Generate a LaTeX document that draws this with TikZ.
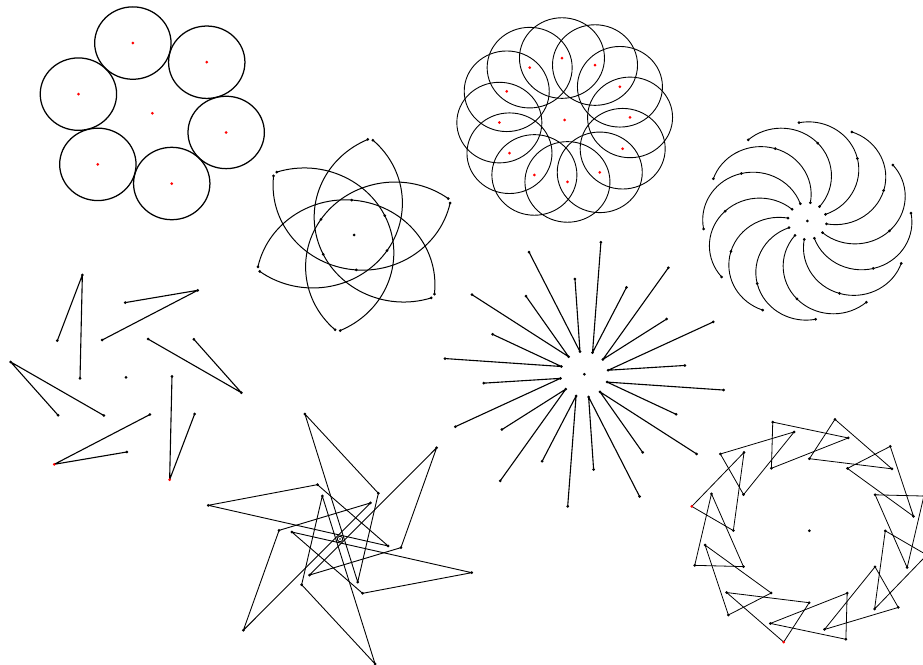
\documentclass[tikz,border=0pt]{standalone}
\begin{document}
\begin{tikzpicture}[x=1pt,y=1pt,
  dot/.style={circle,fill=black,inner sep=0pt,minimum size=3pt},
  rdot/.style={circle,fill=red,inner sep=0pt,minimum size=3pt},
  ln/.style={line width=#1,line cap=round,line join=round,black},
  ln/.default=1pt]
\useasboundingbox (0,0) rectangle (923,664);
\clip (0,0) rectangle (923,664);

% Figure 1: six tangent ellipses
\begin{scope}[shift={(152.3,550.7)},xscale=1.055]
\foreach \k in {0,...,5}{
  \pgfmathsetmacro\a{104.7-60*\k}
  \coordinate (fac\k) at (\a:72.6);
  \draw[ln=1.25pt] (fac\k) circle[radius=36.2];
  \node[rdot] (fad\k) at (fac\k) {};
}
\node[rdot] (fa) at (0,0) {};
\end{scope}

% Figure 2: six arcs
\begin{scope}[shift={(354,429)},xscale=1.055]
\foreach \k in {0,...,5}{
  \pgfmathsetmacro\a{79.3-60*\k}
  \pgfmathsetmacro\s{47.89-60*\k}
  \pgfmathsetmacro\e{202.2-60*\k}
  \pgfmathsetmacro\m{-26.5-60*\k}
  \coordinate (fbs\k) at (\a:96.5);
  \draw[ln] (fbs\k) arc[start angle=\s,delta angle=-174.3,radius=84.85];
  \node[dot] (fbA\k) at (fbs\k) {};
  \node[dot] (fbB\k) at (\e:96.5) {};
  \node[dot] (fbC\k) at (\m:35) {};
}
\node[dot] (fb) at (0,0) {};
\end{scope}

% Figure 3: twelve circles
\begin{scope}[shift={(564.7,544)},xscale=1.055]
\foreach \k in {0,...,11}{
  \pgfmathsetmacro\a{92.4-30*\k}
  \coordinate (fcc\k) at (\a:62);
  \draw[ln=0.9pt] (fcc\k) circle[radius=40.3];
  \node[rdot] (fcd\k) at (fcc\k) {};
}
\node[rdot] (fc) at (0,0) {};
\end{scope}

% Figure 4: spiral of arcs
\begin{scope}[shift={(807.3,443)},xscale=1.055]
\foreach \k in {0,...,11}{
  \pgfmathsetmacro\i{21-30*\k}
  \pgfmathsetmacro\s{-70.2-30*\k}
  \pgfmathsetmacro\o{94.6-30*\k}
  \pgfmathsetmacro\m{52.8-30*\k}
  \coordinate (fdi\k) at (\i:18.5);
  \draw[ln=0.9pt] (fdi\k) arc[start angle=\s,delta angle=171.1,radius=47.67];
  \node[dot] (fdA\k) at (fdi\k) {};
  \node[dot] (fdB\k) at (\o:98.6) {};
  \node[dot] (fdC\k) at (\m:78.5) {};
}
\node[dot] (fd) at (0,0) {};
\end{scope}

% Figure 5: six bent lines
\begin{scope}[shift={(126,286.7)},xscale=1.055]
\foreach \k/\col in {0/black,1/black,2/black,3/red,4/red,5/black}{
  \pgfmathsetmacro\s{150.6-60*\k}
  \pgfmathsetmacro\t{112-60*\k}
  \pgfmathsetmacro\l{181.3-60*\k}
  \coordinate (fes\k) at (\s:74.7);
  \coordinate (fet\k) at (\t:110.4);
  \coordinate (fel\k) at (\l:43.6);
  \draw[ln=1.1pt] (fes\k) -- (fet\k) -- (fel\k);
  \node[dot] (feA\k) at (fes\k) {};
  \node[dot] (feC\k) at (fel\k) {};
  \node[dot,fill=\col] (feB\k) at (fet\k) {};
}
\node[dot] (fe) at (0,0) {};
\end{scope}

% Figure 6: starburst
\begin{scope}[shift={(584.3,289.7)},xscale=1.055]
\foreach \k in {0,...,11}{
  \pgfmathsetmacro\i{100.2-30*\k}
  \pgfmathsetmacro\l{113.2-30*\k}
  \pgfmathsetmacro\m{95.3-30*\k}
  \coordinate (ffi\k) at (\i:23);
  \coordinate (ffl\k) at (\l:133);
  \coordinate (ffm\k) at (\m:95.7);
  \draw[ln=1.1pt] (ffl\k) -- (ffi\k) -- (ffm\k);
  \node[dot] (ffA\k) at (ffi\k) {};
  \node[dot] (ffB\k) at (ffl\k) {};
  \node[dot] (ffC\k) at (ffm\k) {};
}
\node[dot] (ff) at (0,0) {};
\end{scope}

% Figure 7: pinwheel of triangles
\begin{scope}[shift={(340,125)},xscale=1.055]
\foreach \k in {0,...,5}{
  \pgfmathsetmacro\t{104.9-60*\k}
  \pgfmathsetmacro\e{51.5-60*\k}
  \pgfmathsetmacro\p{-68.7-60*\k}
  \coordinate (fgt\k) at (\t:129.3);
  \coordinate (fge\k) at (\e:58.4);
  \coordinate (fgp\k) at (\p:46.2);
  \draw[ln=0.9pt] (fgt\k) -- (fge\k) -- (fgp\k) -- cycle;
  \node[dot] (fgA\k) at (fgt\k) {};
  \node[dot] (fgB\k) at (fge\k) {};
  \node[dot] (fgC\k) at (fgp\k) {};
}
\node[circle,draw,line width=0.9pt,inner sep=0pt,minimum size=5.5pt] (fgo) at (0,0) {};
\node[dot,minimum size=1.6pt] (fg) at (0,0) {};
\end{scope}

% Figure 8: ring of triangles
\begin{scope}[shift={(809.3,133.3)},xscale=1.055]
\foreach \k/\col in {0/black,1/black,2/black,3/black,4/black,5/red,6/black,7/black,8/red,9/black,10/black,11/black}{
  \pgfmathsetmacro\o{17.7+30*\k}
  \pgfmathsetmacro\m{-21.7+30*\k}
  \pgfmathsetmacro\i{29.9+30*\k}
  \coordinate (fho\k) at (\o:114);
  \coordinate (fhm\k) at (\m:99.8);
  \coordinate (fhi\k) at (\i:72);
  \draw[ln=0.8pt] (fho\k) -- (fhm\k) -- (fhi\k) -- cycle;
  \node[dot,fill=\col] (fhA\k) at (fho\k) {};
  \node[dot] (fhB\k) at (fhm\k) {};
  \node[dot] (fhC\k) at (fhi\k) {};
}
\node[dot] (fh) at (0,0) {};
\end{scope}
\end{tikzpicture}
\end{document}
